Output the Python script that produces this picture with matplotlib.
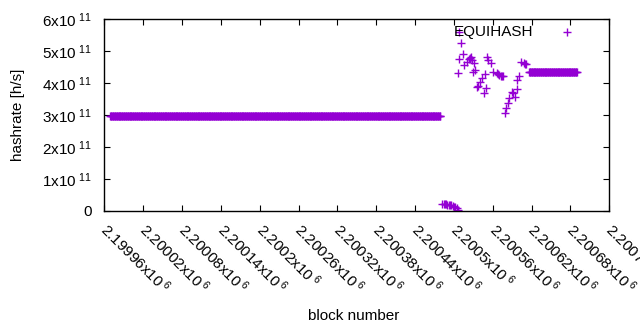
import matplotlib
matplotlib.use("Agg")
import matplotlib.pyplot as plt
import matplotlib.transforms as mtransforms
import numpy as np

plt.rcParams['font.family'] = ['Liberation Sans', 'DejaVu Sans']
plt.rcParams['mathtext.fontset'] = 'custom'
plt.rcParams['mathtext.rm'] = 'Liberation Sans'
plt.rcParams['mathtext.it'] = 'Liberation Sans'

# Data (block number, hashrate in h/s)
# long constant stretches
flat1_start, flat1_end, flat1_value = 2199969, 2200479, 2.96e11
flat2_start, flat2_end, flat2_value = 2200616, 2200690, 4.33e11

drop_blocks = [2200482, 2200484, 2200486, 2200488, 2200490, 2200492, 2200494,
               2200496, 2200498, 2200500, 2200502, 2200504, 2200506, 2200507]
drop_values = [0.21, 0.21, 0.21, 0.21, 0.20, 0.20, 0.19,
               0.18, 0.16, 0.14, 0.11, 0.08, 0.04, 0.0]

scatter_blocks = [2200508, 2200511, 2200514, 2200508, 2200506, 2200516, 2200520,
                  2200523, 2200525, 2200526, 2200528, 2200531, 2200530, 2200533,
                  2200537, 2200536, 2200540, 2200543, 2200548, 2200546, 2200550,
                  2200551, 2200553, 2200557, 2200560, 2200566, 2200568, 2200570,
                  2200572, 2200574, 2200576, 2200579, 2200580, 2200584, 2200585,
                  2200590, 2200591, 2200594, 2200597, 2200597, 2200600, 2200604,
                  2200608, 2200610, 2200612]
scatter_values = [5.58, 5.24, 4.91, 4.74, 4.30, 4.56, 4.66,
                  4.75, 4.78, 4.81, 4.72, 4.62, 4.34, 4.41,
                  3.91, 3.88, 4.03, 4.16, 4.28, 3.69, 3.84,
                  4.81, 4.72, 4.62, 4.34, 4.31, 4.28, 4.25,
                  4.22, 4.22, 4.22, 3.06, 3.22, 3.38, 3.53,
                  3.72, 3.69, 3.56, 3.81, 4.09, 4.22, 4.66,
                  4.62, 4.60, 4.60]

x_ticks = [2199960, 2200020, 2200080, 2200140, 2200200, 2200260, 2200320,
           2200380, 2200440, 2200500, 2200560, 2200620, 2200680, 2200740]
x_tick_labels = ['2.19996', '2.20002', '2.20008', '2.20014', '2.2002', '2.20026',
                 '2.20032', '2.20038', '2.20044', '2.2005', '2.20056', '2.20062',
                 '2.20068', '2.20074']
y_ticks = [0, 1e11, 2e11, 3e11, 4e11, 5e11, 6e11]
y_tick_labels = ['0', '1', '2', '3', '4', '5', '6']

blocks = np.concatenate([np.arange(flat1_start, flat1_end + 1),
                         drop_blocks, scatter_blocks,
                         np.arange(flat2_start, flat2_end + 1)])
values = np.concatenate([np.full(flat1_end - flat1_start + 1, flat1_value),
                         np.array(drop_values) * 1e11,
                         np.array(scatter_values) * 1e11,
                         np.full(flat2_end - flat2_start + 1, flat2_value)])

color = '#9400d3'

fig = plt.figure(figsize=(6.4, 3.3), dpi=100)
ax = fig.add_axes([104.3 / 640, 1 - 211 / 330, 505 / 640, 192 / 330])
ax.plot(blocks, values, '+', color=color, markersize=5.5, markeredgewidth=1.0,
        linestyle='none')

ax.set_xlim(x_ticks[0], x_ticks[-1])
ax.set_ylim(0, 6e11)
ax.set_xticks(x_ticks)
ax.set_xticklabels([])
# rotated x labels drawn by hand so they start right under the tick, gnuplot-like
trans = mtransforms.blended_transform_factory(ax.transData, ax.transAxes)
trans = trans + mtransforms.ScaledTranslation(0.06, -0.09, fig.dpi_scale_trans)
for t, l in zip(x_ticks, x_tick_labels):
    ax.text(t, 0, l + r'x10$^{\ 6}$', transform=trans, rotation=-45,
            rotation_mode='anchor', ha='left', va='top', fontsize=11,
            clip_on=False)

ax.set_yticks(y_ticks)
ax.set_yticklabels([l if l == '0' else l + r'x10$^{\ 11}$' for l in y_tick_labels],
                   fontsize=11)
ax.tick_params(direction='in', length=4.5, width=0.8, top=True, right=True,
               color='black')
ax.tick_params(axis='y', pad=9)
for s in ax.spines.values():
    s.set_linewidth(1.0)

# gnuplot-style key
ax.text(0.849, 0.932, 'EQUIHASH', ha='right', va='center', fontsize=11,
        transform=ax.transAxes)
ax.plot([0.916], [0.932], '+', color=color, markersize=5.5, markeredgewidth=1.0,
        transform=ax.transAxes, clip_on=False)

fig.text(18 / 640, 1 - 115 / 330, 'hashrate [h/s]', rotation=90,
         ha='center', va='center', fontsize=11)
fig.text(354 / 640, 1 - 316 / 330, 'block number', ha='center', va='center',
         fontsize=11)

fig.savefig('out.png', dpi=100)
